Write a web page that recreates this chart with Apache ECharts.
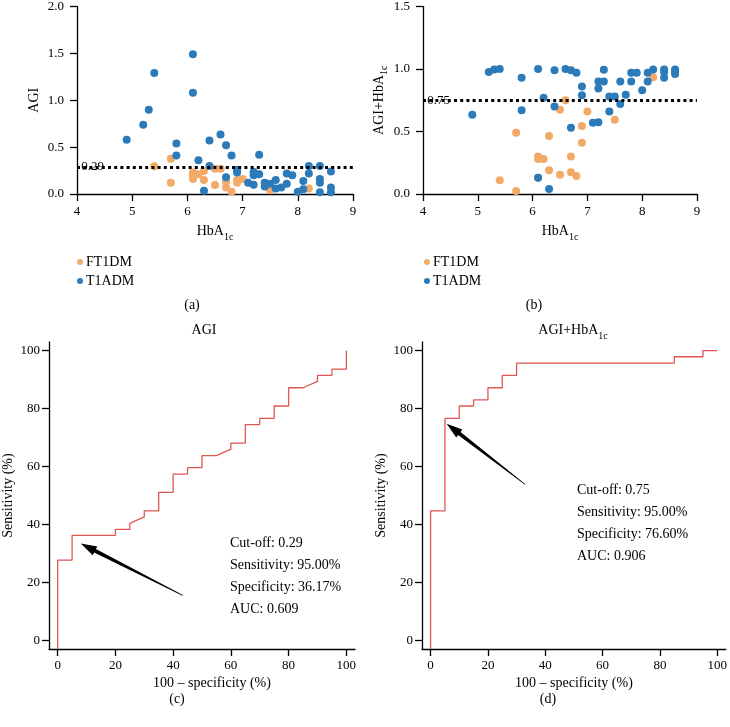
<!DOCTYPE html>
<html>
<head>
<meta charset="utf-8">
<script src="https://cdn.jsdelivr.net/npm/echarts@6/dist/echarts.min.js"></script>
<style>html,body{margin:0;padding:0;background:#fff;}#c{width:730px;height:727px;}</style>
</head>
<body>
<div id="c"></div>
<script>
// ---------- data ----------
const seriesNames = ['FT1DM', 'T1ADM'];
// Panel (a): HbA1c vs AGI
const ft1dmA = [[5.4,0.295],[5.7,0.375],[5.7,0.12],[6.1,0.23],[6.1,0.16],[6.1,0.20],[6.2,0.21],[6.3,0.245],[6.3,0.15],[6.5,0.27],[6.5,0.095],[6.6,0.27],[6.7,0.13],[6.7,0.07],[6.8,0.025],[6.9,0.15],[6.9,0.12],[7.0,0.16],[7.5,0.04],[8.2,0.06]];
const t1admA = [[4.9,0.58],[5.2,0.74],[5.3,0.90],[5.4,1.29],[5.8,0.54],[5.8,0.41],[6.1,1.49],[6.1,1.08],[6.2,0.36],[6.3,0.035],[6.4,0.57],[6.4,0.30],[6.6,0.635],[6.7,0.52],[6.7,0.18],[6.8,0.41],[6.9,0.26],[6.9,0.23],[7.1,0.12],[7.2,0.235],[7.2,0.20],[7.2,0.10],[7.3,0.42],[7.3,0.21],[7.4,0.12],[7.4,0.08],[7.5,0.11],[7.6,0.15],[7.6,0.06],[7.7,0.07],[7.8,0.22],[7.8,0.11],[7.9,0.20],[8.0,0.025],[8.1,0.05],[8.1,0.14],[8.2,0.30],[8.2,0.22],[8.4,0.30],[8.4,0.16],[8.4,0.12],[8.4,0.02],[8.6,0.24],[8.6,0.07],[8.6,0.02]];
// Panel (b): HbA1c vs AGI+HbA1c
const ft1dmB = [[5.4,0.11],[5.7,0.49],[5.7,0.025],[6.1,0.30],[6.1,0.28],[6.1,0.13],[6.2,0.28],[6.3,0.465],[6.3,0.19],[6.5,0.675],[6.5,0.155],[6.6,0.75],[6.7,0.30],[6.7,0.175],[6.8,0.145],[6.9,0.545],[6.9,0.41],[7.0,0.66],[7.5,0.595],[8.2,0.935]];
const t1admB = [[4.9,0.635],[5.2,0.976],[5.3,0.997],[5.4,1.0],[5.8,0.93],[5.8,0.67],[6.1,1.0],[6.1,0.13],[6.2,0.77],[6.3,0.04],[6.4,0.99],[6.4,0.70],[6.6,1.0],[6.7,0.99],[6.7,0.53],[6.8,0.97],[6.9,0.86],[6.9,0.79],[7.1,0.57],[7.2,0.575],[7.2,0.90],[7.2,0.845],[7.3,0.995],[7.3,0.90],[7.4,0.78],[7.4,0.66],[7.5,0.78],[7.6,0.90],[7.6,0.72],[7.7,0.795],[7.8,0.97],[7.8,0.90],[7.9,0.97],[8.0,0.83],[8.1,0.90],[8.1,0.97],[8.2,0.997],[8.4,0.997],[8.4,0.976],[8.4,0.93],[8.6,0.997],[8.6,0.98],[8.6,0.96]];
const cutoffA = 0.29;
const cutoffB = 0.75;
// ROC curves [100 - specificity, sensitivity]
const rocAGI = [[0,-3],[0,27.7],[5,27.7],[5,36.2],[20,36.2],[20,38.3],[25,38.3],[25,40.4],[30,42.6],[30,44.7],[35,44.7],[35,51.1],[40,51.1],[40,57.4],[45,57.4],[45,59.6],[50,59.6],[50,63.8],[55,63.8],[60,66.0],[60,68.1],[65,68.1],[65,74.5],[70,74.5],[70,76.6],[75,76.6],[75,80.9],[80,80.9],[80,87.2],[85,87.2],[90,89.4],[90,91.5],[95,91.5],[95,93.6],[100,93.6],[100,100]];
const rocCombo = [[0,-3],[0,44.7],[5,44.7],[5,76.6],[10,76.6],[10,80.9],[15,80.9],[15,83.0],[20,83.0],[20,87.2],[25,87.2],[25,91.5],[30,91.5],[30,95.7],[85,95.7],[85,97.9],[95,97.9],[95,100],[100,100]];
const rocTicks = [0,20,40,60,80,100];
// arrows: [tailX, tailY, tipX, tipY] in data units
const arrowAGI = [43.3,15.5,8,33.4];
const arrowCombo = [33,53.8,5.6,74.8];
const noteAGI = ['Cut-off: 0.29','Sensitivity: 95.00%','Specificity: 36.17%','AUC: 0.609'];
const noteCombo = ['Cut-off: 0.75','Sensitivity: 95.00%','Specificity: 76.60%','AUC: 0.906'];

// ---------- style ----------
const FF = '"Liberation Serif","DejaVu Serif",serif';
const BLUE = '#2b7bba';
const ORANGE = '#f3aa68';
const RED = '#e05652';
const subRich = {
  n: {fontFamily: FF, fontSize: 14, color: '#000', lineHeight: 22, verticalAlign: 'middle'},
  s: {fontFamily: FF, fontSize: 10, color: '#000', lineHeight: 22, verticalAlign: 'bottom'}
};
function axisBase(extra, labMargin, formatter) {
  const lab = {color: '#000', fontFamily: FF, fontSize: 13, margin: labMargin};
  if (formatter) lab.formatter = formatter;
  return Object.assign({
    type: 'value',
    axisLine: {show: true, onZero: false, lineStyle: {color: '#000', width: 1.3}},
    axisTick: {show: true, length: 7, lineStyle: {color: '#000', width: 1.3}},
    axisLabel: lab,
    splitLine: {show: false},
    nameLocation: 'middle',
    nameTextStyle: {fontFamily: FF, fontSize: 14, color: '#000', rich: subRich}
  }, extra);
}
function rocAxis(extra, labMargin) {
  const a = axisBase(extra, labMargin);
  a.min = -3; a.max = 103;
  a.axisTick = Object.assign({}, a.axisTick, {customValues: rocTicks});
  a.axisLabel = Object.assign({}, a.axisLabel, {customValues: rocTicks});
  return a;
}
function arrowRender(params, api) {
  const tail = api.coord([api.value(0), api.value(1)]);
  const tip = api.coord([api.value(2), api.value(3)]);
  const dx = tip[0]-tail[0], dy = tip[1]-tail[1];
  const L = Math.hypot(dx, dy);
  const ux = dx/L, uy = dy/L, nx = -uy, ny = ux;
  const headLen = 16, headHalf = 5, shaftHead = 2, shaftTail = 0.4;
  const bx = tip[0]-ux*headLen, by = tip[1]-uy*headLen;
  const pts = [
    [tail[0]+nx*shaftTail, tail[1]+ny*shaftTail],
    [bx+nx*shaftHead, by+ny*shaftHead],
    [bx+nx*headHalf, by+ny*headHalf],
    tip,
    [bx-nx*headHalf, by-ny*headHalf],
    [bx-nx*shaftHead, by-ny*shaftHead],
    [tail[0]-nx*shaftTail, tail[1]-ny*shaftTail]
  ];
  return {type: 'polygon', shape: {points: pts}, style: {fill: '#000'}};
}
function cutLine(v) {
  return {
    silent: true, symbol: 'none',
    lineStyle: {color: '#000', type: [3, 3.2], width: 3, cap: 'butt'},
    label: {show: true, position: 'start', distance: -27, formatter: v.toFixed(2), fontFamily: FF, fontSize: 13, color: '#000'},
    data: [{yAxis: v}]
  };
}
function scatter(name, data, xi, extra) {
  return Object.assign({
    type: 'scatter', name: name, data: data, xAxisIndex: xi, yAxisIndex: xi,
    symbolSize: 8, itemStyle: {color: name === 'FT1DM' ? ORANGE : BLUE, opacity: 1}
  }, extra || {});
}
const fmt1 = v => v.toFixed(1);

const chart = echarts.init(document.getElementById('c'), null, {renderer: 'canvas'});
chart.setOption({
  animation: false,
  backgroundColor: '#fff',
  title: [
    {text: 'AGI', left: 199, top: 318, textAlign: 'center', textStyle: {fontFamily: FF, fontSize: 14, fontWeight: 'normal', color: '#000'}},
    {text: '{n|AGI+HbA}{s|1c}', left: 568, top: 314, textAlign: 'center', textStyle: {fontFamily: FF, fontSize: 14, fontWeight: 'normal', color: '#000', rich: subRich}}
  ],
  legend: [
    {left: 72, top: 250, orient: 'vertical', data: seriesNames, icon: 'circle', itemWidth: 6, itemHeight: 6, itemGap: 5, textStyle: {fontFamily: FF, fontSize: 14, color: '#000', padding: [0,0,0,-2]}},
    {left: 419, top: 250, orient: 'vertical', data: seriesNames, icon: 'circle', itemWidth: 6, itemHeight: 6, itemGap: 5, textStyle: {fontFamily: FF, fontSize: 14, color: '#000', padding: [0,0,0,-2]}}
  ],
  grid: [
    {left: 77, top: 4, width: 276, height: 190},
    {left: 423, top: 6, width: 274, height: 188},
    {left: 49, top: 342, width: 306, height: 307},
    {left: 422, top: 342, width: 308, height: 307}
  ],
  xAxis: [
    axisBase({gridIndex: 0, min: 4, max: 9, interval: 1, name: '{n|HbA}{s|1c}', nameGap: 26}, 11),
    axisBase({gridIndex: 1, min: 4, max: 9, interval: 1, name: '{n|HbA}{s|1c}', nameGap: 26}, 11),
    rocAxis({gridIndex: 2, name: '100 – specificity (%)', nameGap: 27, nameTextStyle: {fontFamily: FF, fontSize: 14, color: '#000', padding: [0,0,0,20]}}, 10),
    rocAxis({gridIndex: 3, name: '100 – specificity (%)', nameGap: 27, nameTextStyle: {fontFamily: FF, fontSize: 14, color: '#000'}}, 10)
  ],
  yAxis: [
    axisBase({gridIndex: 0, min: 0, max: 2, interval: 0.5, name: '{n|AGI}', nameGap: 32}, 13, fmt1),
    axisBase({gridIndex: 1, min: 0, max: 1.5, interval: 0.5, name: '{n|AGI+HbA}{s|1c}', nameGap: 29}, 13, fmt1),
    rocAxis({gridIndex: 2, name: 'Sensitivity (%)', nameGap: 34, nameTextStyle: {fontFamily: FF, fontSize: 14, color: '#000'}}, 9),
    rocAxis({gridIndex: 3, name: 'Sensitivity (%)', nameGap: 34, nameTextStyle: {fontFamily: FF, fontSize: 14, color: '#000'}}, 9)
  ],
  series: [
    scatter('FT1DM', ft1dmA, 0),
    scatter('T1ADM', t1admA, 0, {markLine: cutLine(cutoffA)}),
    scatter('FT1DM', ft1dmB, 1),
    scatter('T1ADM', t1admB, 1, {markLine: cutLine(cutoffB)}),
    {type: 'line', name: 'ROC AGI', data: rocAGI, xAxisIndex: 2, yAxisIndex: 2, showSymbol: false, symbol: 'none', lineStyle: {color: RED, width: 1.3}, itemStyle: {color: RED}},
    {type: 'line', name: 'ROC AGI+HbA1c', data: rocCombo, xAxisIndex: 3, yAxisIndex: 3, showSymbol: false, symbol: 'none', lineStyle: {color: RED, width: 1.3}, itemStyle: {color: RED}},
    {type: 'custom', xAxisIndex: 2, yAxisIndex: 2, data: [arrowAGI], encode: {x: [0, 2], y: [1, 3]}, renderItem: arrowRender, silent: true},
    {type: 'custom', xAxisIndex: 3, yAxisIndex: 3, data: [arrowCombo], encode: {x: [0, 2], y: [1, 3]}, renderItem: arrowRender, silent: true}
  ],
  graphic: [
    {type: 'text', left: 230, top: 532, style: {text: noteAGI.join('\n'), fontFamily: FF, fontSize: 14, lineHeight: 22, fill: '#000'}},
    {type: 'text', left: 577, top: 479, style: {text: noteCombo.join('\n'), fontFamily: FF, fontSize: 14, lineHeight: 22, fill: '#000'}},
    {type: 'text', x: 192, y: 305, style: {text: '(a)', fontFamily: FF, fontSize: 14, fill: '#000', align: 'center', verticalAlign: 'middle'}},
    {type: 'text', x: 534, y: 305, style: {text: '(b)', fontFamily: FF, fontSize: 14, fill: '#000', align: 'center', verticalAlign: 'middle'}},
    {type: 'text', x: 177, y: 699, style: {text: '(c)', fontFamily: FF, fontSize: 14, fill: '#000', align: 'center', verticalAlign: 'middle'}},
    {type: 'text', x: 548, y: 699, style: {text: '(d)', fontFamily: FF, fontSize: 14, fill: '#000', align: 'center', verticalAlign: 'middle'}}
  ]
});
</script>
</body>
</html>
